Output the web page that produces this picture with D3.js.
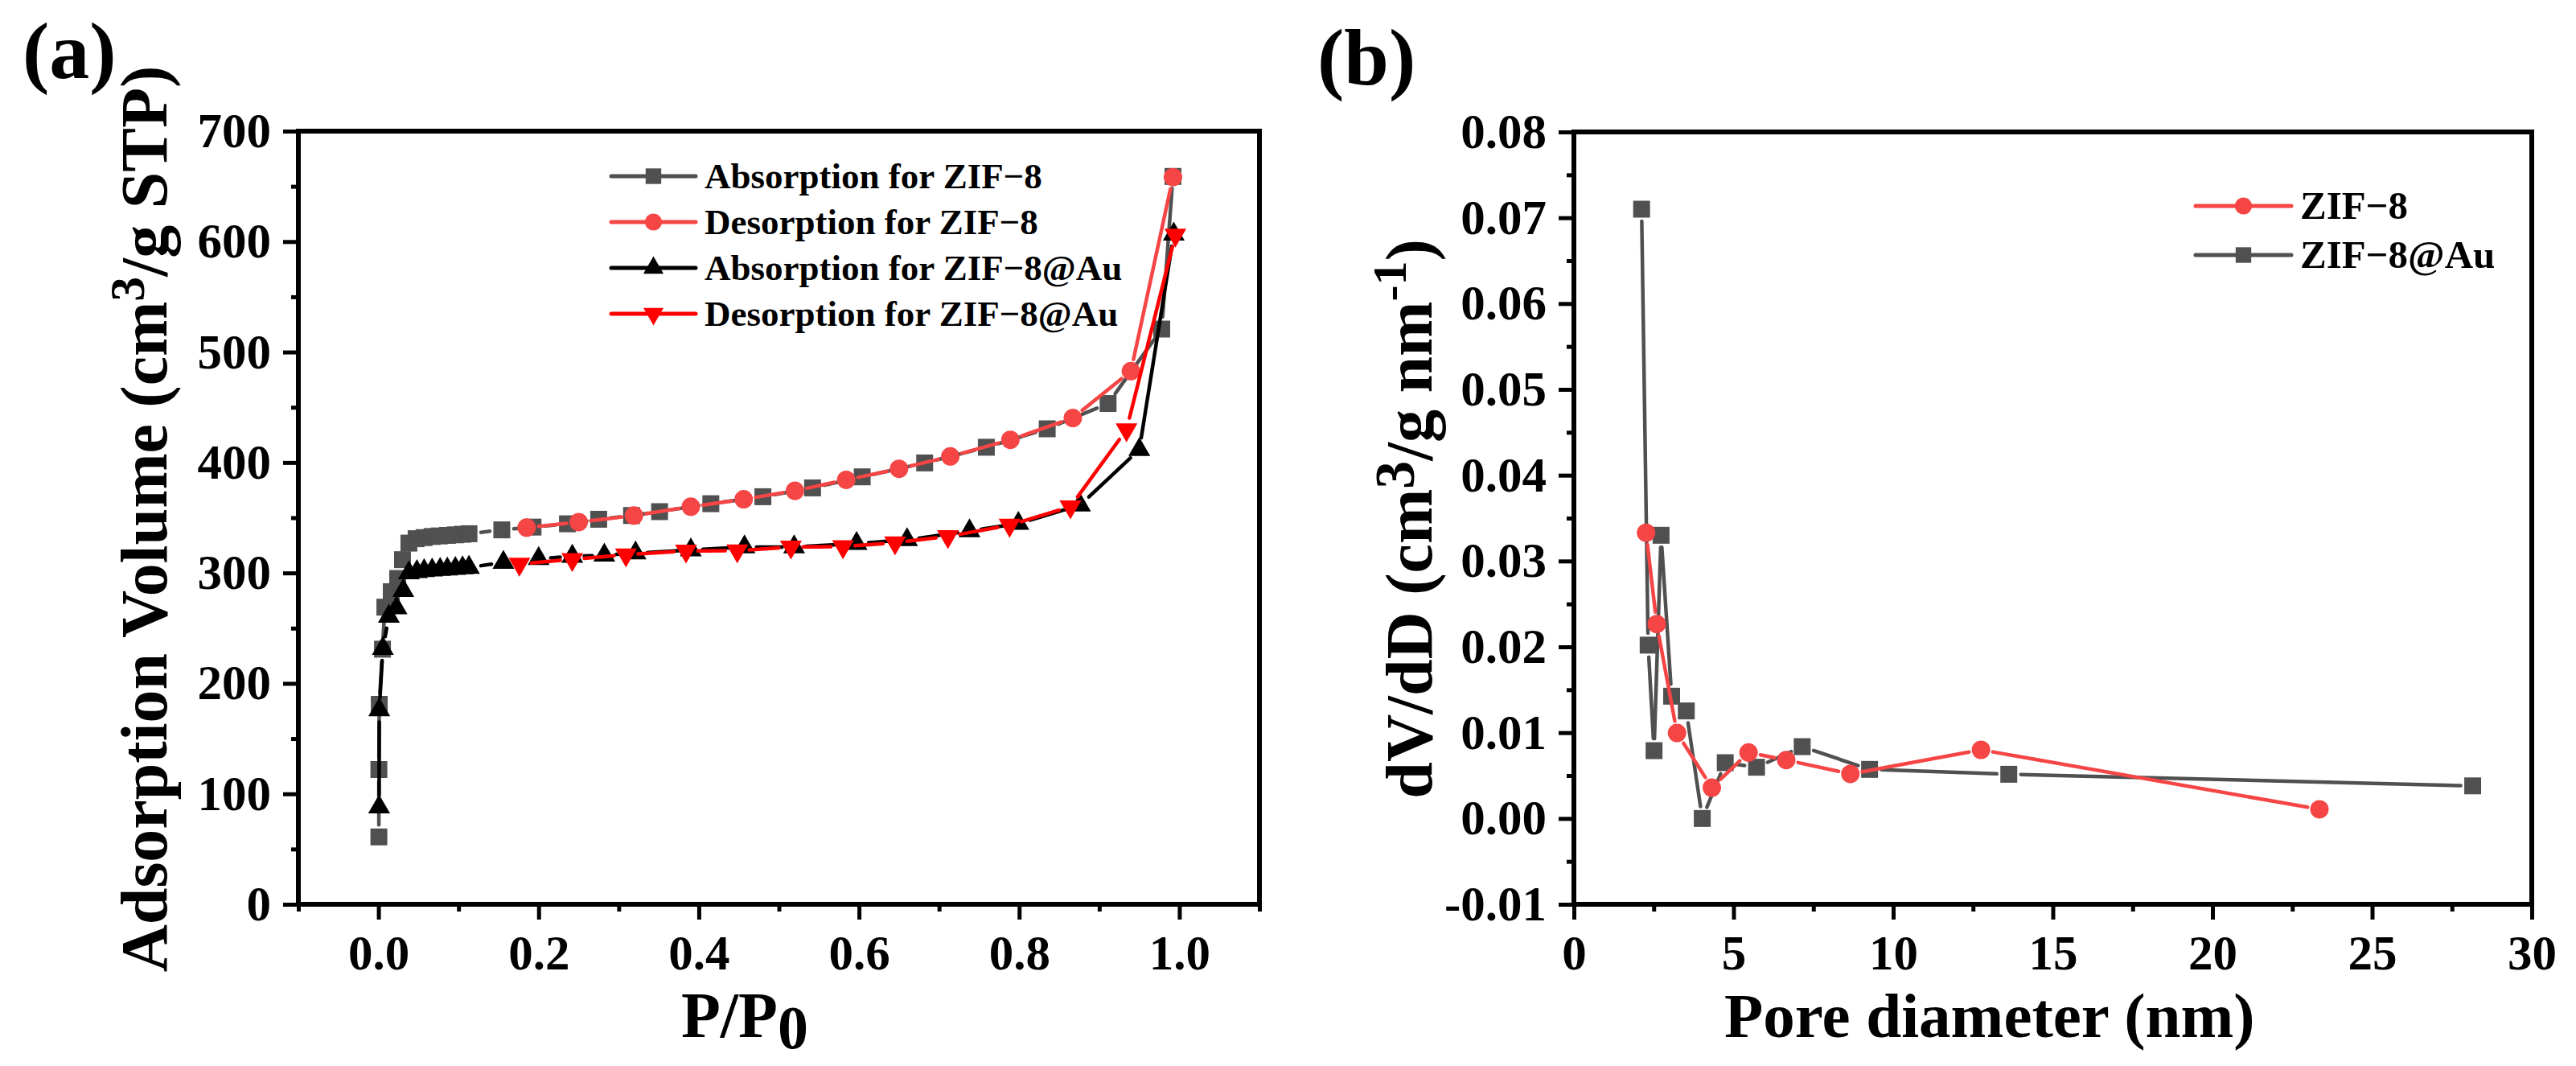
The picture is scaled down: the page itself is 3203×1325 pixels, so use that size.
<!DOCTYPE html>
<html>
<head>
<meta charset="utf-8">
<script src="https://cdn.jsdelivr.net/npm/d3@7"></script>
<style>
  body { margin: 0; background: #fff; }
  svg { display: block; }
  text { font-family: "Liberation Serif", "Times New Roman", serif; font-weight: bold; fill: #000; }
</style>
</head>
<body>
<div id="chart"></div>
<script>
// ---- panel (a): isotherms, [P/P0, volume] ----
const zif8Absorption = [
  [0.0005, 61], [0.0005, 122], [0.001, 181], [0.005, 231], [0.008, 269], [0.016, 283],
  [0.024, 295], [0.030, 312], [0.038, 327], [0.047, 331], [0.057, 332], [0.067, 333],
  [0.076, 333.5], [0.086, 334], [0.096, 334.5], [0.105, 335], [0.113, 335.5],
  [0.154, 339], [0.193, 341.5], [0.236, 344.5], [0.275, 348.6], [0.316, 352],
  [0.351, 355.5], [0.415, 362.7], [0.48, 369], [0.542, 377], [0.604, 387],
  [0.682, 399.6], [0.759, 413.8], [0.835, 430.5], [0.911, 453.4], [0.978, 520.8],
  [0.992, 659]
]
const zif8Desorption = [
  [0.992, 658.3], [0.9395, 482.7], [0.867, 440.3], [0.789, 420.5], [0.714, 405.5],
  [0.650, 394.3], [0.584, 384.3], [0.520, 374.4], [0.456, 366.7], [0.390, 360],
  [0.319, 352], [0.250, 346], [0.185, 341]
]
const auAbsorption = [
  [0.0008, 88], [0.001, 176], [0.0055, 231.6], [0.013, 260.7], [0.0226, 268.3],
  [0.031, 284], [0.038, 300], [0.048, 301], [0.057, 302], [0.067, 302.5],
  [0.077, 303], [0.086, 303.5], [0.096, 304], [0.105, 304.5], [0.113, 305],
  [0.156, 309.5], [0.200, 312.9], [0.242, 315], [0.282, 316], [0.321, 318],
  [0.390, 320.7], [0.457, 323.5], [0.519, 323.5], [0.597, 326.6], [0.660, 330],
  [0.738, 338], [0.799, 344.7], [0.876, 361.4], [0.950, 411.6], [0.993, 606.7]
]
const auDesorption = [
  [0.995, 606], [0.934, 429.7], [0.864, 360], [0.788, 343.3], [0.711, 333],
  [0.645, 327.4], [0.580, 323.8], [0.515, 323.5], [0.448, 320.1], [0.384, 319.9],
  [0.309, 316.5], [0.242, 312.3], [0.176, 308]
]

// ---- panel (b): pore size distribution, [diameter nm, dV/dD] ----
const zif8Pores = [
  [2.26, 0.0333], [2.594, 0.02265], [3.23, 0.00996], [4.32, 0.00359], [5.47, 0.00769],
  [6.65, 0.00681], [8.66, 0.00519], [12.75, 0.0080], [23.35, 0.00107]
]
const auPores = [
  [2.12, 0.0710], [2.325, 0.0202], [2.51, 0.0079], [2.73, 0.0330], [3.06, 0.01425],
  [3.52, 0.01253], [4.02, 0.0000], [4.74, 0.0065], [5.72, 0.00597], [7.15, 0.00837],
  [9.26, 0.00572], [13.62, 0.00515], [28.15, 0.0038]
]

// ticks
const xTicksA = [0, 0.2, 0.4, 0.6, 0.8, 1.0]
const xMinorA = [-0.1, 0.1, 0.3, 0.5, 0.7, 0.9, 1.1]
const yTicksA = [0, 100, 200, 300, 400, 500, 600, 700]
const yMinorA = [50, 150, 250, 350, 450, 550, 650]
const xTicksB = [0, 5, 10, 15, 20, 25, 30]
const xMinorB = [2.5, 7.5, 12.5, 17.5, 22.5, 27.5]
const yTicksB = [-0.01, 0, 0.01, 0.02, 0.03, 0.04, 0.05, 0.06, 0.07, 0.08]
const yMinorB = [-0.005, 0.005, 0.015, 0.025, 0.035, 0.045, 0.055, 0.065, 0.075]

const legendA = ["Absorption for ZIF\u22128", "Desorption for ZIF\u22128",
                 "Absorption for ZIF\u22128@Au", "Desorption for ZIF\u22128@Au"]
const legendB = ["ZIF\u22128", "ZIF\u22128@Au"]

const GRAY = "#505050", LIGHTRED = "#f54545", RED = "#ff0000", BLACK = "#000000"

const svg = d3.select("#chart").append("svg")
  .attr("width", 3203).attr("height", 1325)

const xA = d3.scaleLinear([-0.1, 1.1], [371, 1566])
const yA = d3.scaleLinear([0, 700], [1124, 163])
const xB = d3.scaleLinear([0, 30], [1957, 3148])
const yB = d3.scaleLinear([-0.01, 0.08], [1124, 164])

const symbols = {
  square: { type: d3.symbolSquare, size: 441, rot: 0 },
  circle: { type: d3.symbolCircle, size: 415, rot: 0 },
  up: { type: d3.symbolTriangle, size: 320, rot: 0 },
  down: { type: d3.symbolTriangle, size: 320, rot: 180 }
}

// line pieces between markers, cut short near each marker like Origin does
function gapped(pts, gap) {
  const segs = []
  for (let i = 0; i < pts.length - 1; i++) {
    const [x1, y1] = pts[i], [x2, y2] = pts[i + 1]
    const len = Math.hypot(x2 - x1, y2 - y1)
    if (len <= 2 * gap) continue
    const ux = (x2 - x1) / len, uy = (y2 - y1) / len
    segs.push([[x1 + ux * gap, y1 + uy * gap], [x2 - ux * gap, y2 - uy * gap]])
  }
  return segs
}

function drawSeries(g, data, x, y, color, sym) {
  const pts = data.map(d => [x(d[0]), y(d[1])])
  g.append("g").selectAll("line")
    .data(gapped(pts, 15))
    .join("line")
    .attr("x1", d => d[0][0]).attr("y1", d => d[0][1])
    .attr("x2", d => d[1][0]).attr("y2", d => d[1][1])
    .attr("stroke", color).attr("stroke-width", 4.5).attr("stroke-linecap", "round")
  const s = symbols[sym]
  g.append("g").selectAll("path")
    .data(pts)
    .join("path")
    .attr("d", d3.symbol(s.type, s.size))
    .attr("transform", d => `translate(${d[0]},${d[1]}) rotate(${s.rot})`)
    .attr("fill", color)
}

function drawAxes(g, x, y, xt, xm, yt, ym, fx, fy) {
  const [x0, x1] = x.range(), [y0, y1] = y.range()
  const bottom = g.append("g").attr("transform", `translate(0,${y0})`)
  bottom.call(d3.axisBottom(x).tickValues(xt).tickSize(19).tickPadding(19).tickFormat(fx))
  bottom.append("g").call(d3.axisBottom(x).tickValues(xm).tickSize(9).tickFormat(""))
  const left = g.append("g").attr("transform", `translate(${x0},0)`)
  left.call(d3.axisLeft(y).tickValues(yt).tickSize(19).tickPadding(15).tickFormat(fy))
  left.append("g").call(d3.axisLeft(y).tickValues(ym).tickSize(9).tickFormat(""))
  g.selectAll(".domain").remove()
  g.selectAll(".tick line").attr("stroke", "#000").attr("stroke-width", 5)
  g.selectAll(".tick text")
    .attr("font-family", '"Liberation Serif", "Times New Roman", serif')
    .attr("font-weight", "bold").attr("font-size", 61).attr("fill", "#000")
  g.append("rect")
    .attr("x", x0).attr("y", y1).attr("width", x1 - x0).attr("height", y0 - y1)
    .attr("fill", "none").attr("stroke", "#000").attr("stroke-width", 6)
}

function drawLegend(g, items, x0, x1, ys, fs) {
  items.forEach((it, i) => {
    const yy = ys[i]
    g.append("line").attr("x1", x0).attr("x2", x1).attr("y1", yy).attr("y2", yy)
      .attr("stroke", it.color).attr("stroke-width", 5).attr("stroke-linecap", "round")
    const s = symbols[it.sym]
    g.append("path")
      .attr("d", d3.symbol(s.type, s.size * 0.85))
      .attr("transform", `translate(${(x0 + x1) / 2},${yy}) rotate(${s.rot})`)
      .attr("fill", it.color)
    g.append("text").attr("x", x1 + 11).attr("y", yy + fs * 0.33)
      .attr("font-size", fs).text(it.label)
  })
}

// ---------- panel (a) ----------
const ga = svg.append("g")
drawSeries(ga, zif8Absorption, xA, yA, GRAY, "square")
drawSeries(ga, zif8Desorption, xA, yA, LIGHTRED, "circle")
drawSeries(ga, auAbsorption, xA, yA, BLACK, "up")
drawSeries(ga, auDesorption, xA, yA, RED, "down")
drawAxes(ga, xA, yA, xTicksA, xMinorA, yTicksA, yMinorA, d3.format(".1f"), d3.format("d"))

drawLegend(ga, [
  { label: legendA[0], color: GRAY, sym: "square" },
  { label: legendA[1], color: LIGHTRED, sym: "circle" },
  { label: legendA[2], color: BLACK, sym: "up" },
  { label: legendA[3], color: RED, sym: "down" }
], 760, 865, [219, 276, 333, 390], 45)

ga.append("text").attr("x", 28).attr("y", 97).attr("font-size", 100).text("(a)")

const xla = ga.append("text").attr("x", 847).attr("y", 1289).attr("font-size", 80)
xla.append("tspan").text("P/P")
xla.append("tspan").attr("font-size", 76).attr("dy", 14).text("0")

const yla = ga.append("text")
  .attr("transform", "translate(207,645) rotate(-90)")
  .attr("text-anchor", "middle").attr("font-size", 82)
yla.append("tspan").text("Adsorption Volume (cm")
yla.append("tspan").attr("font-size", 62).attr("dy", -28).text("3")
yla.append("tspan").attr("dy", 28).text("/g STP)")

// ---------- panel (b) ----------
const gb = svg.append("g")
drawSeries(gb, auPores, xB, yB, GRAY, "square")
drawSeries(gb, zif8Pores, xB, yB, LIGHTRED, "circle")
drawAxes(gb, xB, yB, xTicksB, xMinorB, yTicksB, yMinorB, d3.format("d"),
  v => (v < 0 ? "-" : "") + Math.abs(v).toFixed(2))

drawLegend(gb, [
  { label: legendB[0], color: LIGHTRED, sym: "circle" },
  { label: legendB[1], color: GRAY, sym: "square" }
], 2730, 2849, [256, 317], 49)

gb.append("text").attr("x", 1638).attr("y", 105).attr("font-size", 100).text("(b)")

gb.append("text").attr("x", 2144).attr("y", 1289).attr("font-size", 79)
  .text("Pore diameter (nm)")

const ylb = gb.append("text")
  .attr("transform", "translate(1780,645) rotate(-90)")
  .attr("text-anchor", "middle").attr("font-size", 82)
ylb.append("tspan").text("dV/dD (cm")
ylb.append("tspan").attr("font-size", 70).attr("dy", -22).text("3")
ylb.append("tspan").attr("dy", 22).text("/g nm")
ylb.append("tspan").attr("font-size", 60).attr("dy", -32).text("-1")
ylb.append("tspan").attr("dy", 32).text(")")
</script>
</body>
</html>
